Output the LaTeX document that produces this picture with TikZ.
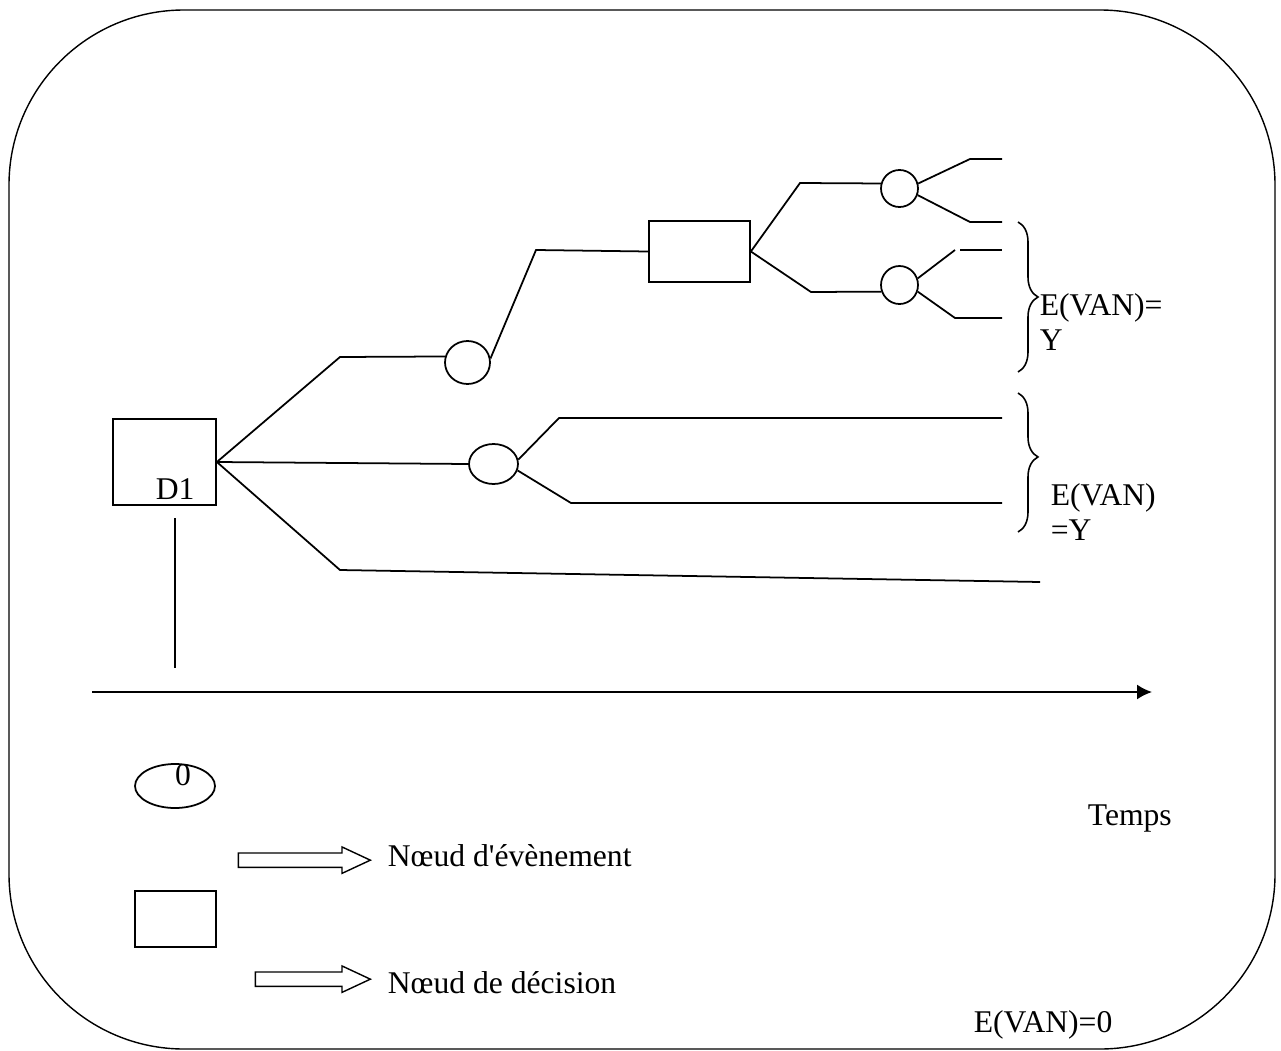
\documentclass[tikz,border=0pt]{standalone}
\usepackage{fontspec}
\setmainfont{Liberation Serif}[Ligatures=TeXOff]
\usetikzlibrary{arrows.meta,positioning,shapes.geometric,shapes.arrows,decorations.pathreplacing}

\begin{document}
\begin{tikzpicture}[
    x=0.02cm, y=-0.02cm,
    font=\fontsize{18}{20}\selectfont,
    line width=1pt,
    decbox/.style={draw, rectangle, inner sep=0pt},
    evt/.style={draw, ellipse, inner sep=0pt},
    txt/.style={inner sep=0pt, anchor=base west},
    legarrow/.style={draw, single arrow, single arrow head extend=0.12cm, single arrow tip angle=50,
        single arrow head indent=0pt, inner xsep=0pt, inner ysep=0.13cm, line width=0.8pt},
    brc/.style={decorate, decoration={brace, amplitude=0.4cm}, line width=0.9pt},
    arr/.style={-{Latex[length=0.3cm, width=0.3cm]}}
]
\useasboundingbox (0,0) rectangle (1281,1051);
\draw[line width=0.8pt, rounded corners=3.5cm] (9,10) rectangle (1275,1049);

% tree nodes
\node[decbox, minimum width=2.06cm, minimum height=1.72cm] (d1) at (164.5,462) {};
\node[txt] (d1lbl) at (155,499) {D1};
\node[evt, minimum width=0.9cm, minimum height=0.86cm] (c1) at (467.5,362.5) {};
\node[evt, minimum width=0.98cm, minimum height=0.8cm] (c2) at (493.5,464) {};
\node[decbox, minimum width=2.02cm, minimum height=1.22cm] (d2) at (699.5,251.5) {};
\node[evt, minimum width=0.74cm, minimum height=0.74cm] (c3) at (899.5,188.5) {};
\node[evt, minimum width=0.74cm, minimum height=0.76cm] (c4) at (899.5,285) {};

% free ends
\coordinate (e1) at (1002,159);
\coordinate (e2) at (1002,222);
\coordinate (e3) at (1002,250);
\coordinate (e4) at (1002,318);
\coordinate (e5) at (1002,418);
\coordinate (e6) at (1002,503);
\coordinate (e7) at (1040,582);
\coordinate (t0) at (175,518);
\coordinate (t1) at (175,668);

% branches
\draw (d1.east) -- (340,357) -- (c1.165);
\draw (c1.10) -- (536,250) -- (d2.west);
\draw (d2.east) -- (800,183) -- (c3.165);
\draw (c3.15) -- (970,159) -- (e1);
\draw (c3.-20) -- (970,222) -- (e2);
\draw (d2.east) -- (811,292) -- (c4.-160);
\draw (c4.20) -- (955,250);
\draw (960,250) -- (e3);
\draw (c4.-20) -- (955,318) -- (e4);
\draw (d1.east) -- (c2.west);
\draw (c2.10) -- (559,418) -- (e5);
\draw (c2.-15) -- (571,503) -- (e6);
\draw (d1.east) -- (340,570) -- (e7);
\draw (t0) -- (t1);

% braces and values
\draw[brc] (1018,222) -- (1018,372);
\draw[brc, decoration={aspect=0.46}] (1018,393) -- (1018,532);
\node[inner sep=0pt, anchor=west, align=left] (v1) at (1039,322) {E(VAN)=\\Y};
\node[inner sep=0pt, anchor=west, align=left] (v2) at (1050,512) {E(VAN)\\=Y};

% time axis
\coordinate (a0) at (92,692);
\coordinate (a1) at (1152,692);
\draw[arr] (a0) -- (a1);
\node[txt] (temps) at (1087,825) {Temps};

% legend
\node[evt, minimum width=1.6cm, minimum height=0.88cm] (evleg) at (175,786) {};
\node[inner sep=0pt] (zero) at (183,775) {0};
\node[txt] (evtxt) at (387,866) {Nœud d'évènement};
\node[legarrow, minimum height=2.64cm, left=0.3cm of evtxt.west, yshift=-0.1cm] (la1) {};
\node[decbox, minimum width=1.62cm, minimum height=1.12cm] (decleg) at (175.5,919) {};
\node[txt] (dectxt) at (387,993) {Nœud de décision};
\node[legarrow, minimum height=2.3cm, left=0.3cm of dectxt.west, yshift=0.06cm] (la2) {};
\node[txt] (van0) at (973,1032) {E(VAN)=0};
\end{tikzpicture}
\end{document}
